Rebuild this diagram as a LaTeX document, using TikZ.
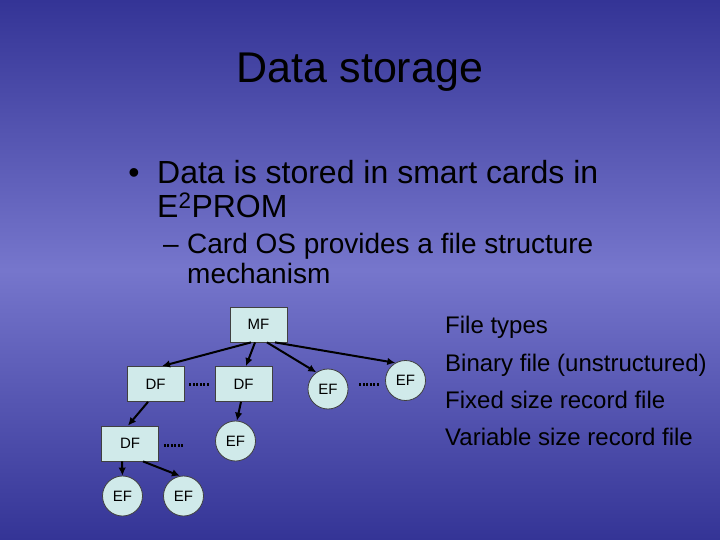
\documentclass[tikz,border=0pt]{standalone}
\usepackage{fontspec}
\setmainfont{Liberation Sans}
\usepackage{tikz}
\usetikzlibrary{arrows.meta,shapes.geometric}

\definecolor{bgdark}{RGB}{52,52,150}
\definecolor{bglight}{RGB}{118,118,204}
\definecolor{nodefill}{RGB}{208,234,234}

\begin{document}
\begin{tikzpicture}[x=1pt,y=-1pt,
    filebox/.style={draw=black!75,line width=0.8pt,fill=nodefill,minimum width=57pt,minimum height=35pt,inner sep=0pt,font=\fontsize{15}{18}\selectfont},
    filecirc/.style={draw=black!75,line width=0.8pt,fill=nodefill,circle,minimum size=40pt,inner sep=0pt,font=\fontsize{15}{18}\selectfont},
    link/.style={line width=2pt,-{Latex[length=8pt,width=7.5pt]}},
    dotsep/.style={line width=3pt,dash pattern=on 2pt off 1.5pt},
    txt/.style={inner sep=0pt,anchor=base west}]
    \useasboundingbox (0,0) rectangle (720,540);
    % background
    \shade[top color=bgdark,bottom color=bglight] (0,0) rectangle (720,270);
    \shade[top color=bglight,bottom color=bgdark] (0,270) rectangle (720,540);

    % title and bullets
    \node[inner sep=0pt,anchor=base,font=\fontsize{43}{50}\selectfont] (title) at (360,83) {Data storage};
    \node[inner sep=0pt,anchor=base,font=\fontsize{32}{38}\selectfont] (bul) at (134,184) {•};
    \node[txt,font=\fontsize{32}{38}\selectfont] (l1) at (157,184) {Data is stored in smart cards in};
    \node[txt,font=\fontsize{32}{38}\selectfont] (l2) at (157,218) {E\textsuperscript{2}PROM};
    \node[txt,font=\fontsize{28}{33}\selectfont] (dash) at (163,253) {–};
    \node[txt,font=\fontsize{28}{33}\selectfont] (l3) at (187,253) {Card OS provides a file structure};
    \node[txt,font=\fontsize{28}{33}\selectfont] (l4) at (187,283) {mechanism};

    % legend
    \foreach \t/\y/\n in {File types/333/lg1,Binary file (unstructured)/371/lg2,
                          Fixed size record file/408/lg3,Variable size record file/445/lg4} {
        \node[txt,font=\fontsize{24}{28}\selectfont] (\n) at (445,\y) {\t};
    }

    % file tree
    \node[filebox] (mf) at (258.5,324.5) {MF};
    \node[filebox] (df1) at (155.5,384) {DF};
    \node[filebox] (df2) at (243.5,384) {DF};
    \node[filebox] (df3) at (130,443.5) {DF};
    \node[filecirc] (ef1) at (328,389) {EF};
    \node[filecirc] (ef2) at (405.5,380.5) {EF};
    \node[filecirc] (ef3) at (235.5,441) {EF};
    \node[filecirc] (ef4) at (122.5,496) {EF};
    \node[filecirc] (ef5) at (183.5,496) {EF};

    \draw[link] ([xshift=-7.5pt]mf.south) -- ([xshift=6.5pt]df1.north);
    \draw[link] ([xshift=-3.5pt]mf.south) -- ([xshift=2.5pt]df2.north);
    \draw[link] ([xshift=8.5pt]mf.south) -- (ef1.125);
    \draw[link] ([xshift=16.5pt]mf.south) -- (ef2.120);
    \draw[link] ([xshift=-7.5pt]df1.south) -- ([xshift=-2pt]df3.north);
    \draw[link] ([xshift=-2.5pt]df2.south) -- (ef3.86);
    \draw[link] ([xshift=-8pt]df3.south) -- (ef4.north);
    \draw[link] ([xshift=13pt]df3.south) -- (ef5.100);

    % dotted separators
    \draw[dotsep] ([xshift=5pt]df1.east) -- ([xshift=-5pt]df2.west);
    \draw[dotsep] ([shift={(11pt,5pt)}]ef1.east) -- ++(21pt,0pt);
    \draw[dotsep] ([shift={(5pt,-1.5pt)}]df3.east) -- ++(21pt,0pt);
\end{tikzpicture}
\end{document}
